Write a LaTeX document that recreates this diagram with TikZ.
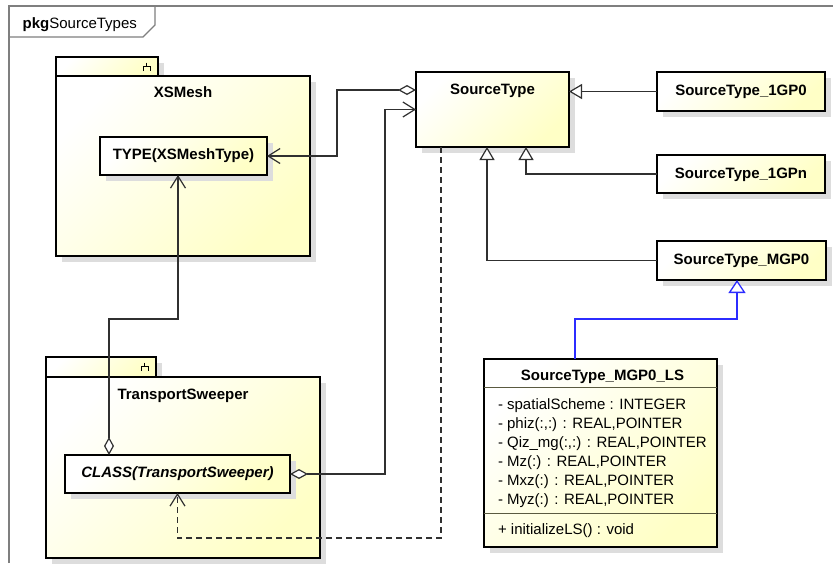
\documentclass[tikz,border=0pt]{standalone}
\usepackage{fontspec}
\setmainfont{Liberation Sans}
\usetikzlibrary{arrows.meta,shadows}

\definecolor{umlyellow}{HTML}{FFFFC6}
\definecolor{shadowgray}{HTML}{DDDDDD}
\definecolor{framegray}{HTML}{7F7F7F}
\definecolor{linkgray}{HTML}{303030}
\definecolor{genblue}{HTML}{2C2CFF}
\definecolor{sepgray}{HTML}{5A5A40}

\tikzset{
  umlbox/.style={draw=black, line width=2.7pt,
    top color=white, bottom color=umlyellow, shading angle=45,
    general shadow={fill=shadowgray, shadow xshift=6pt, shadow yshift=-6pt},
    anchor=north west},
  txt/.style={anchor=base, font=\fontsize{15}{18}\selectfont},
  btxt/.style={txt, font=\fontsize{15}{18}\selectfont\bfseries},
  member/.style={anchor=base west, font=\fontsize{15}{18}\selectfont},
  link/.style={draw=linkgray, line width=1.2pt},
  aggr/.style={link, {Diamond[fill=white, length=18pt, width=10pt]}-{Straight Barb[length=12pt, width=15pt]}},
  navig/.style={link, -{Straight Barb[length=12pt, width=15pt]}},
  usage/.style={navig, dash pattern=on 6pt off 4pt},
  inherit/.style={link, -{Triangle[fill=white, length=13pt, width=15pt]}},
  realize/.style={color=genblue, line width=1.3pt, -{Triangle[fill=white, length=13pt, width=17pt]}},
  sepline/.style={draw=sepgray, line width=1pt},
  glyph/.style={draw=black, line width=1pt}
}

% small package glyph drawn inside a package tab
\newcommand{\pkgglyph}[1]{%
  \draw[glyph] ([shift={(-11.5,5.5)}]#1.north east) -- ++(0,4);
  \draw[glyph] ([shift={(-15,14)}]#1.north east) -- ++(0,-4.5) -- ++(7,0) -- ++(0,4.5);
}

\begin{document}
\begin{tikzpicture}[x=1pt, y=-1pt, every node/.style={inner sep=0pt, outer sep=0pt}]
\useasboundingbox (0,0) rectangle (833,563);
\fill[white] (0,0) rectangle (833,563);

% diagram frame with its name tab
\draw[framegray, line width=1.5pt] (9,563) -- (9,6) -- (833,6);
\draw[framegray, line width=1.2pt] (9,37) -- (143,37) -- (155,25) -- (155,6);
\node[anchor=base west, font=\fontsize{15}{18}\selectfont] (framelabel) at (22.7,28) {\textbf{pkg}SourceTypes};

% package XSMesh
\node[umlbox, minimum width=102pt, minimum height=19pt] (xstab) at (56,57) {};
\pkgglyph{xstab}
\node[umlbox, minimum width=254pt, minimum height=180pt] (xs) at (56,76) {};
\node[btxt] (xslabel) at ([yshift=-21pt]xs.north) {XSMesh};
\node[umlbox, minimum width=167pt, minimum height=38pt] (type) at (100,137) {};
\node[btxt] (typelabel) at ([yshift=-3.5pt]type.center) {TYPE(XSMeshType)};

% package TransportSweeper
\node[umlbox, minimum width=110pt, minimum height=20pt] (tstab) at (46,357) {};
\pkgglyph{tstab}
\node[umlbox, minimum width=274pt, minimum height=181pt] (ts) at (46,377) {};
\node[btxt] (tslabel) at ([yshift=-22pt]ts.north) {TransportSweeper};
\node[umlbox, minimum width=225pt, minimum height=38pt] (cls) at (65,455) {};
\node[btxt, font=\fontsize{15}{18}\selectfont\bfseries\itshape] (clslabel) at ([yshift=-3.5pt]cls.center) {CLASS(TransportSweeper)};

% source type classes
\node[umlbox, minimum width=153pt, minimum height=75pt] (st) at (416,72) {};
\node[btxt] (stlabel) at ([yshift=-22pt]st.north) {SourceType};

\node[umlbox, minimum width=168pt, minimum height=39pt] (g1) at (657,72) {};
\node[btxt] (g1label) at ([yshift=-3.5pt]g1.center) {SourceType\_1GP0};
\node[umlbox, minimum width=168pt, minimum height=38pt] (gn) at (657,155) {};
\node[btxt] (gnlabel) at ([yshift=-4.3pt]gn.center) {SourceType\_1GPn};
\node[umlbox, minimum width=169pt, minimum height=39pt] (m0) at (657,241) {};
\node[btxt] (m0label) at ([yshift=-4pt]m0.center) {SourceType\_MGP0};

% class with attributes and operations
\node[umlbox, minimum width=233pt, minimum height=188pt] (ls) at (484,359) {};
\node[btxt] (lslabel) at ([shift={(2pt,-21pt)}]ls.north) {SourceType\_MGP0\_LS};
\draw[sepline] ([yshift=-28pt]ls.north west) -- ([yshift=-28pt]ls.north east);
\draw[sepline] ([yshift=-154pt]ls.north west) -- ([yshift=-154pt]ls.north east);
\foreach \m [count=\i] in {{- spatialScheme : INTEGER}, {- phiz(:,:) : REAL,POINTER},
    {- Qiz\_mg(:,:) : REAL,POINTER}, {- Mz(:) : REAL,POINTER},
    {- Mxz(:) : REAL,POINTER}, {- Myz(:) : REAL,POINTER}}
  \node[member] (attr\i) at ([shift={(14pt,{-50.3pt-19pt*(\i-1)})}]ls.north west) {\m};
\node[member] (op1) at ([shift={(14pt,-175pt)}]ls.north west) {+ initializeLS() : void};

% associations
\draw[aggr] ([yshift=-18pt]st.north west) -- ++(-79,0) |- (type.east);
\draw[aggr] (cls.east) -- ++(95,0) |- (st.west);
\draw[aggr] ([xshift=-68.5pt]cls.north) -- ++(0,-136) -| ([xshift=-5.5pt]type.south);
\draw[usage] ([xshift=-51.5pt]st.south) -- ++(0,391) -| (cls.south);

% generalizations
\draw[inherit] (g1.west) -- (g1.west -| st.east);
\draw[inherit] (gn.west) -| ([xshift=33.5pt]st.south);
\draw[inherit] (m0.west) -| ([xshift=-5.5pt]st.south);
\draw[realize] ([xshift=-25.5pt]ls.north) -- ++(0,-40) -| ([xshift=-4.5pt]m0.south);
\end{tikzpicture}
\end{document}
